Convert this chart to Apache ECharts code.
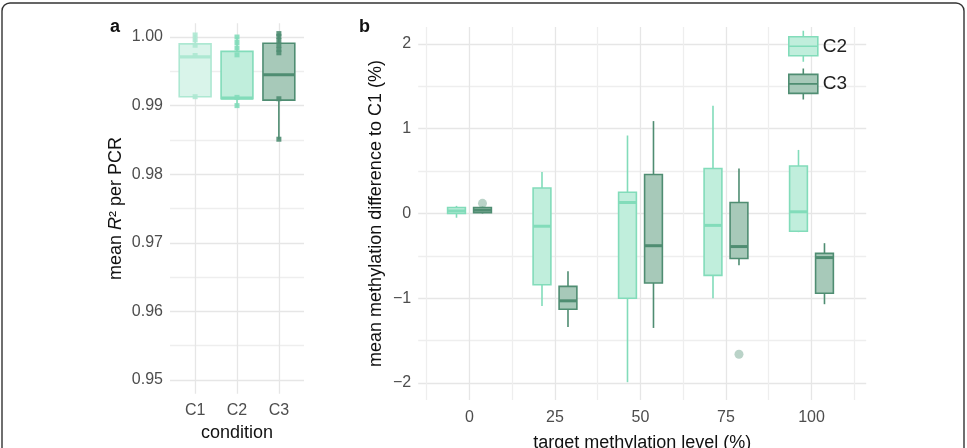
<!DOCTYPE html>
<html lang="en">
<head>
    <meta charset="UTF-8">
    <title>R2 and methylation difference</title>
    <style>
        *{margin: 0; padding: 0;}
        body,html{width: 100%; height: 100%; background: #fff;}
        #chart{width: 967px; height: 448px;}
    </style>
</head>
<body>
<div id="chart"></div>
<script src="https://cdn.jsdelivr.net/npm/echarts@6/dist/echarts.min.js"></script>
<script>
// panel a: mean R2 per PCR
var conditions = ['C1', 'C2', 'C3'];
var r2Min = [0.9912, 0.9898, 0.9851];
var r2Q1  = [0.9913, 0.9910, 0.9908];
var r2Med = [0.9971, 0.9911, 0.9945];
var r2Q3  = [0.9990, 0.9979, 0.9991];
var r2Max = [1.0003, 1.0000, 1.0005];
var r2Points = [
    [1.0003, 0.9996, 0.9988, 0.9973, 0.9913],
    [1.0000, 0.9992, 0.9984, 0.9974, 0.9912, 0.9900],
    [1.0005, 1.0001, 0.9995, 0.9988, 0.9982, 0.9977, 0.9910, 0.9851]
];

// panel b: methylation difference to C1
var levels = [0, 25, 50, 75, 100];
var c2Min = [-0.05, -1.09, -1.99, -1.00, -0.22];
var c2Q1  = [0.00, -0.84, -1.00, -0.73, -0.21];
var c2Med = [0.03, -0.15, 0.13, -0.14, 0.02];
var c2Q3  = [0.07, 0.30, 0.25, 0.53, 0.56];
var c2Max = [0.09, 0.49, 0.92, 1.27, 0.75];
var c3Min = [0.00, -1.34, -1.35, -0.61, -1.07];
var c3Q1  = [0.01, -1.13, -0.82, -0.53, -0.94];
var c3Med = [0.04, -1.03, -0.38, -0.39, -0.52];
var c3Q3  = [0.07, -0.86, 0.46, 0.13, -0.47];
var c3Max = [0.08, -0.68, 1.09, 0.53, -0.35];
var c3Outliers = [[0, 0.12], [75, -1.66]];

var colC1 = {fill: '#d9f4ea', line: '#ade8d2'};
var colC2 = {fill: '#c0eedc', line: '#82dcba'};
var colC3 = {fill: '#a7c9b9', line: '#4f8d72'};
var condCols = [colC1, colC2, colC3];

var gridCols = ['transparent', 'transparent', '#e6e6e6', 'transparent', 'transparent',
                'transparent', 'transparent', '#eeeeee', 'transparent', 'transparent'];
var textCol = '#4d4d4d';
var font = 'Liberation Sans';

function rows(xs, a, b, c, d, e) {
    var out = [];
    for (var i = 0; i < xs.length; i++) out.push([xs[i], a[i], b[i], c[i], d[i], e[i]]);
    return out;
}

function boxRender(offset, width, col, lw, medW) {
    return function (params, api) {
        var x = api.value(0) + offset;
        var lo = api.coord([x - width / 2, api.value(2)]);
        var hi = api.coord([x + width / 2, api.value(4)]);
        var mn = api.coord([x, api.value(1)]);
        var mx = api.coord([x, api.value(5)]);
        var md = api.coord([x, api.value(3)]);
        return {
            type: 'group',
            children: [
                {type: 'line', shape: {x1: mn[0], y1: mn[1], x2: mn[0], y2: lo[1]}, style: {stroke: col.line, lineWidth: lw}},
                {type: 'line', shape: {x1: mx[0], y1: mx[1], x2: mx[0], y2: hi[1]}, style: {stroke: col.line, lineWidth: lw}},
                {type: 'rect', shape: {x: lo[0], y: hi[1], width: hi[0] - lo[0], height: lo[1] - hi[1]},
                    style: {fill: col.fill, stroke: col.line, lineWidth: lw}},
                {type: 'line', shape: {x1: lo[0], y1: md[1], x2: hi[0], y2: md[1]}, style: {stroke: col.line, lineWidth: medW}}
            ]
        };
    };
}

var condX = conditions.map(function (c, i) { return i + 1; });
var r2Rows = rows(condX, r2Min, r2Q1, r2Med, r2Q3, r2Max);

var series = [];
// panel a boxes, one per condition so each keeps its colour
r2Rows.forEach(function (r, i) {
    series.push({
        type: 'custom', name: 'r2box' + i, xAxisIndex: 0, yAxisIndex: 0,
        renderItem: boxRender(0, 0.76, condCols[i], 1.6, 3.2),
        encode: {x: 0, y: [1, 2, 3, 4, 5]},
        data: [r]
    });
});
r2Points.forEach(function (pts, i) {
    series.push({
        type: 'scatter', name: 'r2pts' + i, xAxisIndex: 0, yAxisIndex: 0,
        symbol: 'rect', symbolSize: 5, z: 3,
        itemStyle: {color: condCols[i].line, opacity: 0.9},
        data: pts.map(function (v) { return [condX[i], v]; })
    });
});
// panel b
series.push({
    type: 'custom', name: 'C2', xAxisIndex: 1, yAxisIndex: 1,
    renderItem: boxRender(-3.8, 5.2, colC2, 1.6, 3),
    encode: {x: 0, y: [1, 2, 3, 4, 5]},
    itemStyle: {color: colC2.fill, borderColor: colC2.line},
    data: rows(levels, c2Min, c2Q1, c2Med, c2Q3, c2Max)
});
series.push({
    type: 'custom', name: 'C3', xAxisIndex: 1, yAxisIndex: 1,
    renderItem: boxRender(3.8, 5.2, colC3, 1.6, 3),
    encode: {x: 0, y: [1, 2, 3, 4, 5]},
    itemStyle: {color: colC3.fill, borderColor: colC3.line},
    data: rows(levels, c3Min, c3Q1, c3Med, c3Q3, c3Max)
});
series.push({
    type: 'scatter', name: 'outliers', xAxisIndex: 1, yAxisIndex: 1,
    symbolSize: 9, z: 1,
    itemStyle: {color: '#a9c8ba'},
    data: c3Outliers.map(function (p) { return [p[0] + 3.8, p[1]]; })
});

var legendIcon = 'path://M14.5,0V6M14.5,25V31M0,6H29V25H0ZM0,15.5H29';

var option = {
    animation: false,
    textStyle: {fontFamily: font},
    graphic: [
        {type: 'rect', shape: {x: 2, y: 3, width: 962, height: 470, r: 8},
            style: {fill: 'none', stroke: '#333', lineWidth: 1.4}, z: -1},
        {type: 'text', left: 110, top: 18, style: {text: 'a', font: 'bold 18px ' + font, fill: '#111'}},
        {type: 'text', left: 359, top: 18, style: {text: 'b', font: 'bold 18px ' + font, fill: '#111'}}
    ],
    legend: {
        orient: 'vertical', left: 783, top: 25, itemGap: 5,
        itemWidth: 29, itemHeight: 31,
        textStyle: {fontSize: 19, color: '#222', fontFamily: font},
        data: [
            {name: 'C2', icon: legendIcon, itemStyle: {color: colC2.fill, borderColor: colC2.line, borderWidth: 1.6}},
            {name: 'C3', icon: legendIcon, itemStyle: {color: colC3.fill, borderColor: colC3.line, borderWidth: 1.6}}
        ]
    },
    grid: [
        {left: 170, width: 134, top: 23.3, bottom: 54.3, outerBoundsMode: 'none'},
        {left: 418.2, width: 448, top: 27, bottom: 48, outerBoundsMode: 'none'}
    ],
    xAxis: [
        {
            type: 'value', gridIndex: 0, min: 0.4, max: 3.6, interval: 0.2,
            name: 'condition', nameLocation: 'middle', nameGap: 30,
            nameTextStyle: {fontSize: 18, color: '#111', fontFamily: font},
            axisLine: {show: false}, axisTick: {show: false},
            axisLabel: {
                color: textCol, fontSize: 16, margin: 9,
                formatter: function (v) {
                    var k = Math.round(v);
                    return Math.abs(v - k) < 1e-6 && k >= 1 && k <= 3 ? conditions[k - 1] : '';
                }
            },
            splitLine: {lineStyle: {width: 1.3, color: ['transparent', 'transparent', 'transparent', '#e6e6e6', 'transparent']}}
        },
        {
            type: 'value', gridIndex: 1, min: -15, max: 116, interval: 2.5,
            name: 'target methylation level (%)', nameLocation: 'middle', nameGap: 34,
            nameTextStyle: {fontSize: 18, color: '#111', fontFamily: font},
            axisLine: {show: false}, axisTick: {show: false},
            axisLabel: {
                color: textCol, fontSize: 16, margin: 10,
                formatter: function (v) {
                    return Math.abs(v % 25) < 1e-6 && v >= 0 && v <= 100 ? String(v) : '';
                }
            },
            splitLine: {lineStyle: {width: 1.3, color: ['transparent', '#eeeeee', 'transparent', 'transparent', 'transparent',
                'transparent', '#e6e6e6', 'transparent', 'transparent', 'transparent']}}
        }
    ],
    yAxis: [
        {
            type: 'value', gridIndex: 0, min: 0.948, max: 1.002, interval: 0.001,
            name: '{t|mean }{i|R}{t|² per PCR}', nameLocation: 'middle', nameGap: 45,
            nameTextStyle: {
                fontSize: 18, color: '#111', fontFamily: font,
                rich: {t: {fontSize: 18, color: '#111'}, i: {fontSize: 18, color: '#111', fontStyle: 'italic'}}
            },
            axisLine: {show: false}, axisTick: {show: false},
            axisLabel: {
                color: textCol, fontSize: 16, margin: 7,
                formatter: function (v) {
                    return Math.abs(v * 100 - Math.round(v * 100)) < 1e-6 ? v.toFixed(2) : '';
                }
            },
            splitLine: {lineStyle: {width: 1.3, color: gridCols}}
        },
        {
            type: 'value', gridIndex: 1, min: -2.2, max: 2.2, interval: 0.1,
            name: 'mean methylation difference to C1 (%)', nameLocation: 'middle', nameGap: 33,
            nameTextStyle: {fontSize: 18, color: '#111', fontFamily: font},
            axisLine: {show: false}, axisTick: {show: false},
            axisLabel: {
                color: textCol, fontSize: 16, margin: 7,
                formatter: function (v) {
                    var k = Math.round(v);
                    if (Math.abs(v - k) > 1e-6) return '';
                    return k < 0 ? '\u2212' + Math.abs(k) : String(k);
                }
            },
            splitLine: {lineStyle: {width: 1.3, color: gridCols}}
        }
    ],
    series: series
};

var myChart = echarts.init(document.getElementById('chart'));
myChart.setOption(option);
</script>
</body>
</html>
